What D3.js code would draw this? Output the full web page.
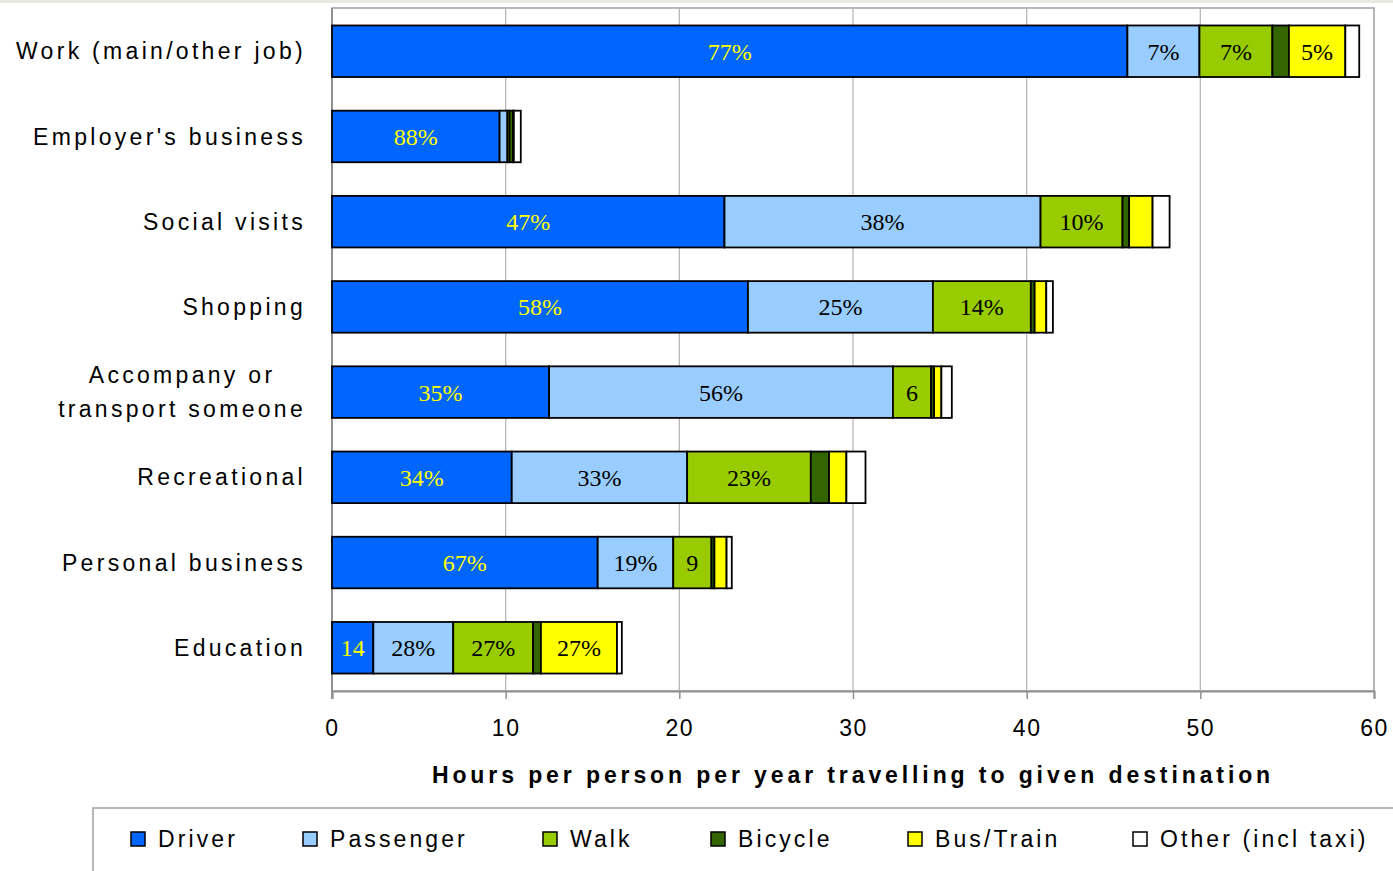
<!DOCTYPE html>
<html>
<head>
<meta charset="utf-8">
<script src="https://cdn.jsdelivr.net/npm/d3@7"></script>
<style>
  html, body { margin: 0; padding: 0; background: #fff; }
  svg { display: block; }
</style>
</head>
<body>
<svg id="chart" width="1393" height="871"></svg>
<script>
// Travel time per person per year by journey purpose, split by mode (hours)
const categories = [
  "Work (main/other job)",
  "Employer's business",
  "Social visits",
  "Shopping",
  "Accompany or\ntransport someone",
  "Recreational",
  "Personal business",
  "Education"
];

const modes = ["Driver", "Passenger", "Walk", "Bicycle", "Bus/Train", "Other (incl taxi)"];

const driver    = [45.8, 9.65, 22.6, 23.95, 12.5, 10.35, 15.3, 2.38];
const passenger = [4.15, 0.45, 18.2, 10.65, 19.8, 10.1, 4.35, 4.6];
const walk      = [4.2, 0.12, 4.72, 5.64, 2.2, 7.12, 2.2, 4.6];
const bicycle   = [0.95, 0.2, 0.38, 0.22, 0.17, 1.05, 0.17, 0.45];
const busTrain  = [3.25, 0.05, 1.35, 0.67, 0.42, 1.0, 0.7, 4.38];
const other     = [0.8, 0.4, 0.98, 0.38, 0.6, 1.1, 0.3, 0.28];

// Share labels printed inside the segments
const driverLabels    = ["77%", "88%", "47%", "58%", "35%", "34%", "67%", "14"];
const passengerLabels = ["7%", "", "38%", "25%", "56%", "33%", "19%", "28%"];
const walkLabels      = ["7%", "", "10%", "14%", "6", "23%", "9", "27%"];
const bicycleLabels   = ["", "", "", "", "", "", "", ""];
const busTrainLabels  = ["5%", "", "", "", "", "", "", "27%"];
const otherLabels     = ["", "", "", "", "", "", "", ""];

const xTicks = [0, 10, 20, 30, 40, 50, 60];
const xTitle = "Hours per person per year travelling to given destination";

const seriesValues = [driver, passenger, walk, bicycle, busTrain, other];
const seriesLabels = [driverLabels, passengerLabels, walkLabels, bicycleLabels, busTrainLabels, otherLabels];
const colors = ["#0066ff", "#99ccff", "#99cc00", "#336600", "#ffff00", "#ffffff"];
const labelColors = ["#ffff00", "#000", "#000", "#000", "#000", "#000"];

const rows = categories.map((c, i) => {
  const r = { category: c };
  modes.forEach((m, k) => { r[m] = seriesValues[k][i]; });
  return r;
});

const svg = d3.select("#chart");
const W = 1393, H = 871;
const plot = { left: 332, right: 1374, top: 8, bottom: 691 };

const sansFont = "Arial, 'Liberation Sans', sans-serif";
const serifFont = "'Times New Roman', 'Liberation Serif', serif";

// thin strip along the top edge
svg.append("rect").attr("x", 0).attr("y", 0).attr("width", W).attr("height", 3).attr("fill", "#e7eadf");

const x = d3.scaleLinear().domain([0, 60]).range([plot.left, plot.right]);
const y = d3.scaleBand().domain(categories).range([plot.top, plot.bottom])
  .paddingInner(0.395).paddingOuter(0.205);

// plot area frame
svg.append("rect")
  .attr("x", plot.left).attr("y", plot.top)
  .attr("width", plot.right - plot.left).attr("height", plot.bottom - plot.top)
  .attr("fill", "#fff").attr("stroke", "#a0a0a0").attr("stroke-width", 1.5);

// vertical gridlines
svg.append("g").selectAll("line")
  .data(xTicks.filter(t => t > 0 && t < 60))
  .join("line")
  .attr("x1", d => x(d)).attr("x2", d => x(d))
  .attr("y1", plot.top).attr("y2", plot.bottom)
  .attr("stroke", "#b8b8b8").attr("stroke-width", 1.3);

// left edge
svg.append("line")
  .attr("x1", plot.left).attr("x2", plot.left)
  .attr("y1", plot.top).attr("y2", plot.bottom + 8)
  .attr("stroke", "#909090").attr("stroke-width", 2);

// x axis
const xAxis = d3.axisBottom(x).tickValues(xTicks).tickSize(8).tickPadding(21).tickFormat(d3.format("d"));
const gx = svg.append("g").attr("transform", `translate(0,${plot.bottom})`).call(xAxis);
gx.select(".domain").attr("stroke", "#909090").attr("stroke-width", 2);
gx.selectAll(".tick line").attr("stroke", "#909090").attr("stroke-width", 1.5);
gx.selectAll(".tick text")
  .attr("fill", "#000")
  .style("font-family", sansFont).style("font-size", "23px").style("letter-spacing", "1.5px");

// stacked bars
const stack = d3.stack().keys(modes);
const stacked = stack(rows);

const barG = svg.append("g");
stacked.forEach((layer, k) => {
  barG.append("g").selectAll("rect")
    .data(layer)
    .join("rect")
    .attr("x", d => x(d[0]))
    .attr("y", d => y(d.data.category))
    .attr("width", d => x(d[1]) - x(d[0]))
    .attr("height", y.bandwidth())
    .attr("fill", colors[k])
    .attr("stroke", "#000")
    .attr("stroke-width", 1.8);
});

// segment labels
stacked.forEach((layer, k) => {
  barG.append("g").selectAll("text")
    .data(layer.map((d, i) => ({ d, label: seriesLabels[k][i] })).filter(o => o.label))
    .join("text")
    .attr("x", o => (x(o.d[0]) + x(o.d[1])) / 2)
    .attr("y", o => y(o.d.data.category) + y.bandwidth() / 2)
    .attr("dy", "0.35em")
    .attr("text-anchor", "middle")
    .attr("fill", labelColors[k])
    .style("font-family", serifFont)
    .style("font-size", "24px")
    .text(o => o.label);
});

// category labels
const catSpacing = 3.3;
const catG = svg.append("g");
categories.forEach(c => {
  const lines = c.split("\n");
  const cy = y(c) + y.bandwidth() / 2;
  const t = catG.append("text")
    .attr("fill", "#000")
    .style("font-family", sansFont).style("font-size", "23px").style("letter-spacing", catSpacing + "px");
  const lh = 34;
  lines.forEach((ln, j) => {
    t.append("tspan")
      .attr("x", 0)
      .attr("y", cy + (j - (lines.length - 1) / 2) * lh)
      .attr("dy", "0.35em")
      .text(ln);
  });
  // right-align the block; centre multiple lines within it
  const widths = t.selectAll("tspan").nodes().map(n => n.getComputedTextLength());
  const maxW = d3.max(widths);
  const rightEdge = 306;
  if (lines.length === 1) {
    t.attr("text-anchor", "end").selectAll("tspan").attr("x", rightEdge);
  } else {
    t.attr("text-anchor", "middle").selectAll("tspan").attr("x", rightEdge - maxW / 2);
  }
});

// x axis title
svg.append("text")
  .attr("x", 853)
  .attr("y", 783)
  .attr("text-anchor", "middle")
  .attr("fill", "#000")
  .style("font-family", sansFont).style("font-size", "23px").style("font-weight", "bold")
  .style("letter-spacing", "3.9px")
  .text(xTitle);

// legend
const legendBox = { x: 93, y: 808 };
svg.append("rect")
  .attr("x", legendBox.x).attr("y", legendBox.y)
  .attr("width", W - legendBox.x + 10).attr("height", H - legendBox.y + 10)
  .attr("fill", "#fff").attr("stroke", "#a0a0a0").attr("stroke-width", 1.5);

const legendX = [131, 303, 543, 711, 908, 1133];
const lg = svg.append("g").selectAll("g")
  .data(modes)
  .join("g")
  .attr("transform", (d, i) => `translate(${legendX[i]},832)`);
lg.append("rect")
  .attr("width", 14).attr("height", 14)
  .attr("fill", (d, i) => colors[i])
  .attr("stroke", "#000").attr("stroke-width", 1.5);
lg.append("text")
  .attr("x", 27).attr("y", 7).attr("dy", "0.35em")
  .attr("fill", "#000")
  .style("font-family", sansFont).style("font-size", "23px").style("letter-spacing", "3.1px")
  .text(d => d);
</script>
</body>
</html>
